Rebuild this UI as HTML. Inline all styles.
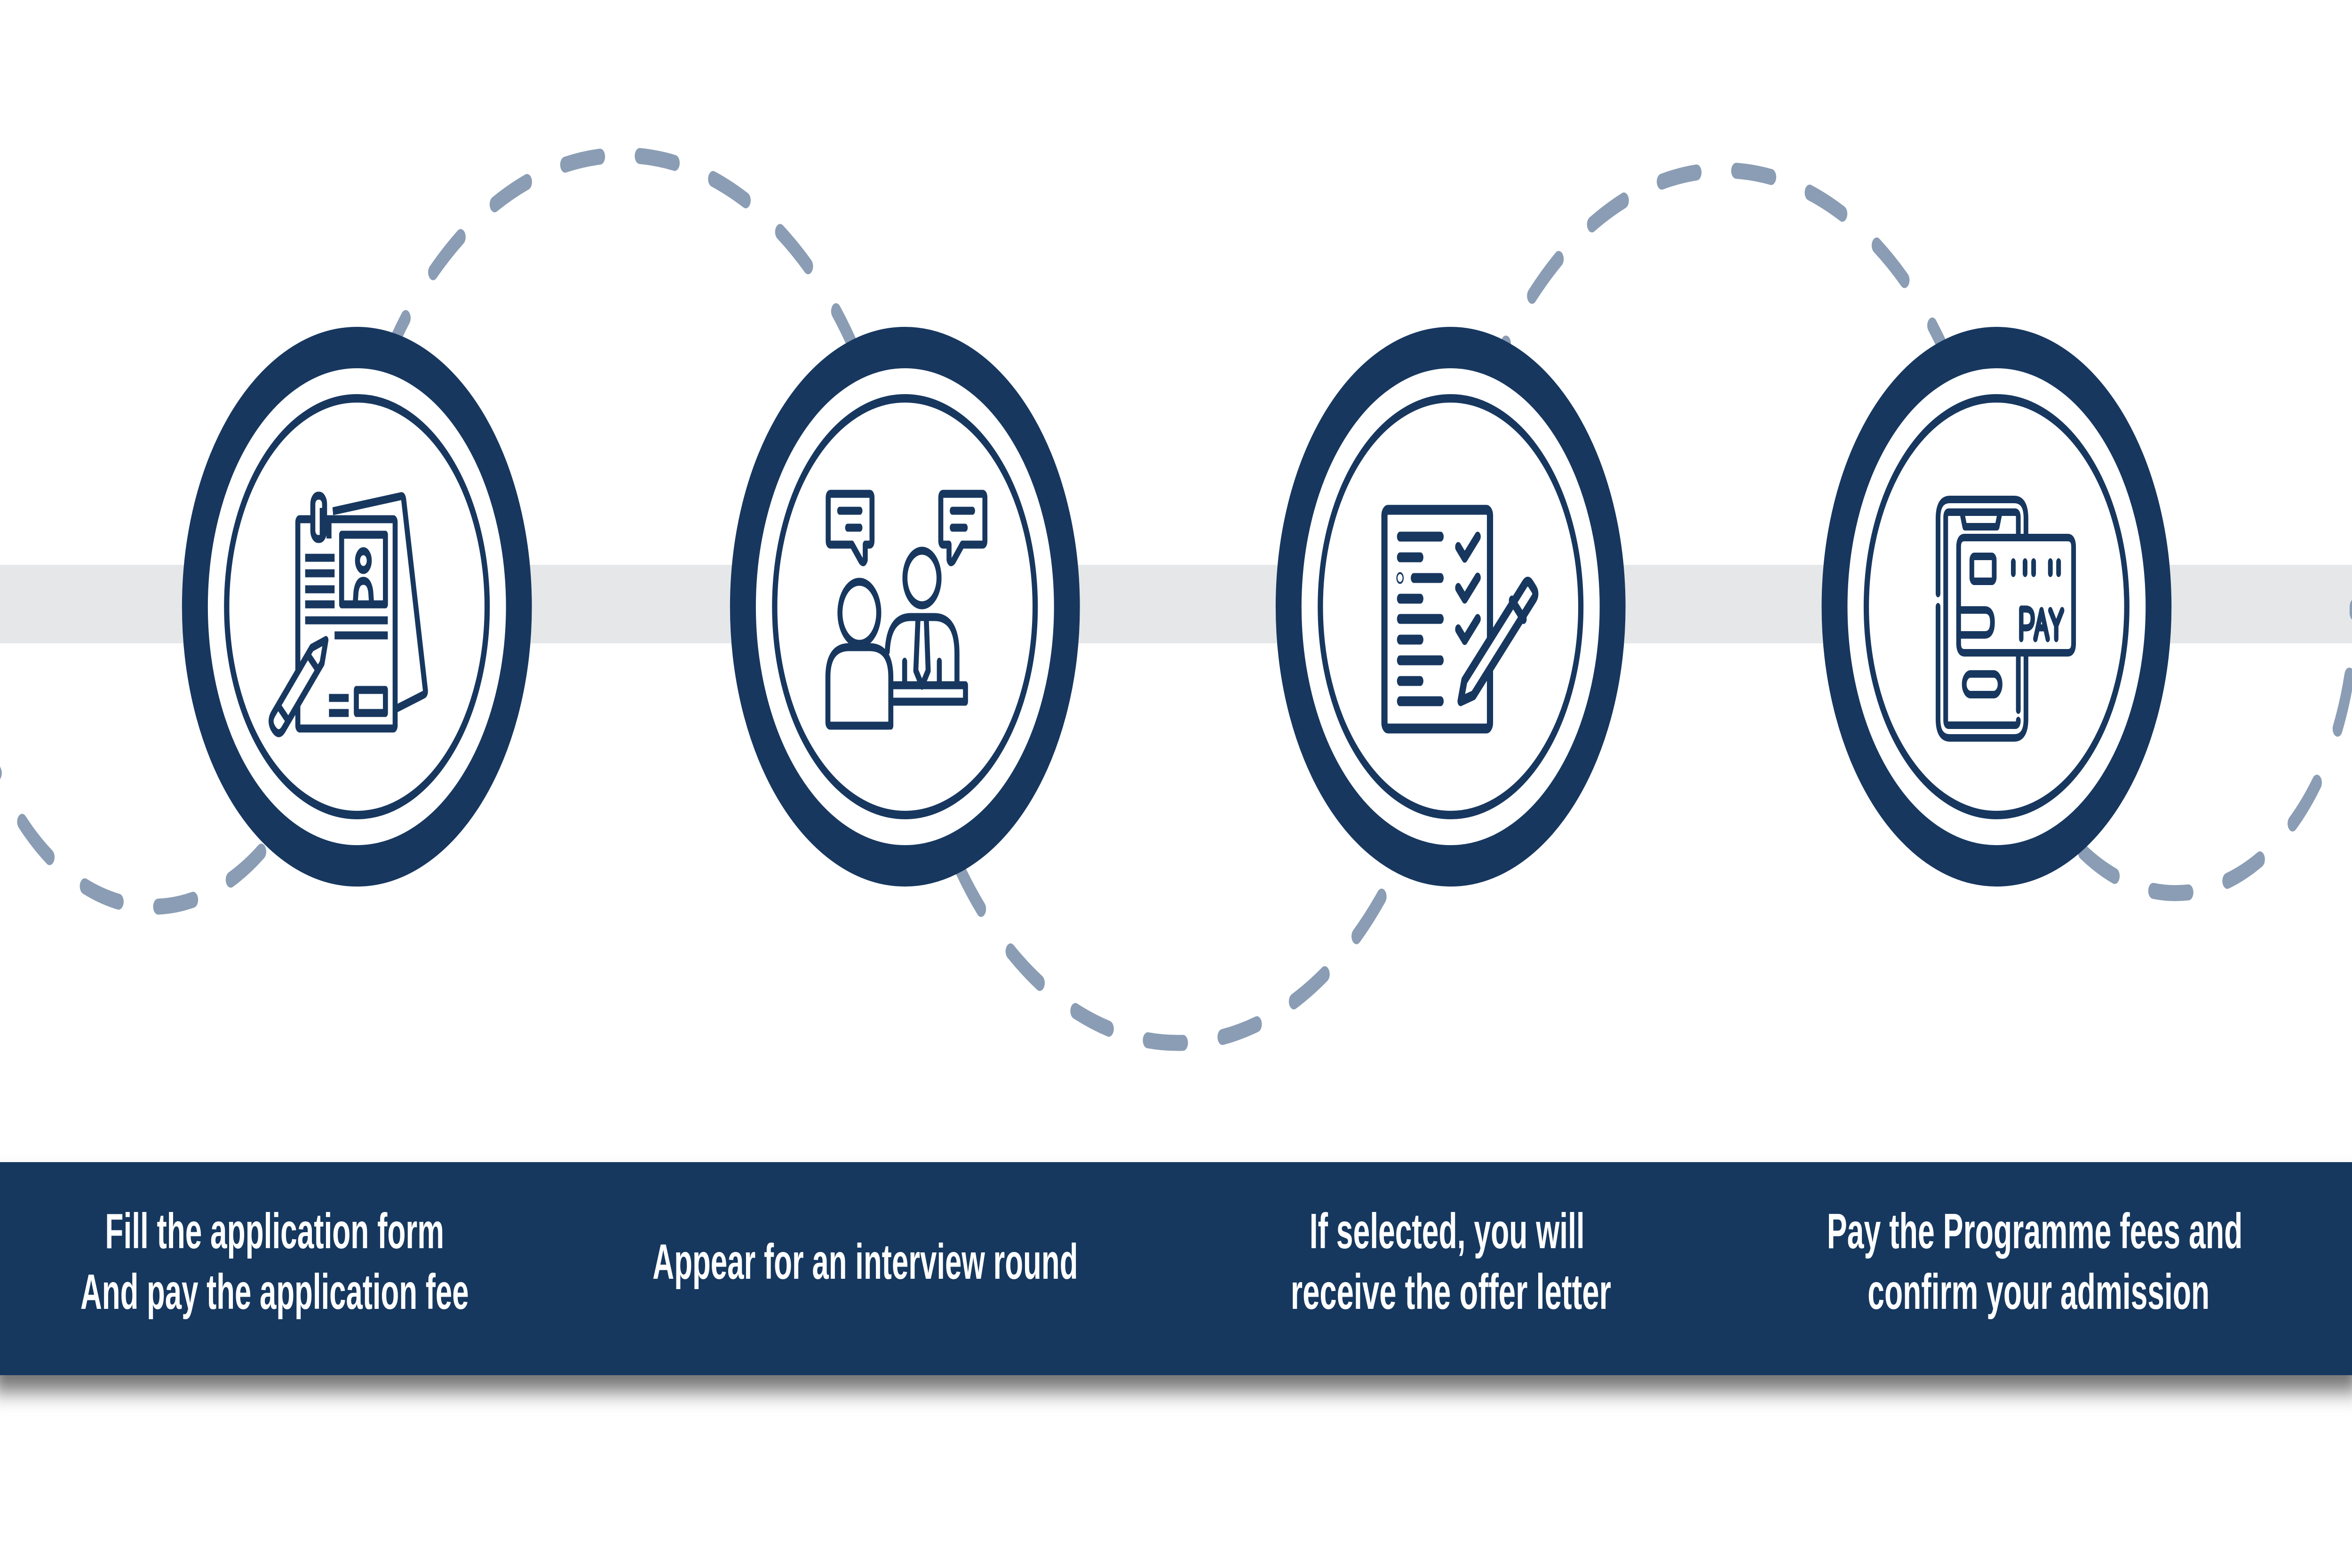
<!DOCTYPE html>
<html>
<head>
<meta charset="utf-8">
<style>
html,body{margin:0;padding:0;background:#fff;width:100%;height:100%;overflow:hidden;}
svg{display:block;position:absolute;left:0;top:0;width:100vw;height:100vh;}
.cap{font-family:"Liberation Sans",Arial,sans-serif;font-weight:bold;font-size:106px;fill:#fff;}
</style>
</head>
<body>
<svg viewBox="0 0 8000 3334" preserveAspectRatio="none" xmlns="http://www.w3.org/2000/svg">
<defs>
  <filter id="sh" x="-5%" y="-20%" width="110%" height="160%">
    <feDropShadow dx="0" dy="35" stdDeviation="22" flood-color="#000" flood-opacity="0.55"/>
  </filter>
</defs>
<rect x="0" y="0" width="8000" height="3334" fill="#fff"/>
<rect x="0" y="1201" width="8000" height="167" fill="#e6e7e8"/>

<path d="M -118 1290 A 638 638 0 0 0 1158 1290 A 960 960 0 0 1 3078 1290 A 928 928 0 0 0 4934 1290 A 928 928 0 0 1 6791 1290 A 609 609 0 0 0 8009 1290"
  fill="none" stroke="#8a9db4" stroke-width="34" stroke-linecap="round" stroke-dasharray="120 135"/>

<g fill="#fff" stroke="#17375f">
  <g transform="translate(1214,1290)"><circle r="551" stroke-width="88"/><circle r="443" stroke-width="18" fill="none"/></g>
  <g transform="translate(3078,1290)"><circle r="551" stroke-width="88"/><circle r="443" stroke-width="18" fill="none"/></g>
  <g transform="translate(4934,1290)"><circle r="551" stroke-width="88"/><circle r="443" stroke-width="18" fill="none"/></g>
  <g transform="translate(6791,1290)"><circle r="551" stroke-width="88"/><circle r="443" stroke-width="18" fill="none"/></g>
</g>

<g transform="translate(1214,1290)" fill="none" stroke="#17375f" stroke-width="17" stroke-linejoin="round">
  <path d="M -82 -203 L 150 -235 Q 157 -236 159 -228 L 233 178 Q 234 185 227 187 L 130 218"/>
  <rect x="-201" y="-186" width="331" height="445" rx="6" fill="#fff"/>
  <rect x="-150" y="-236" width="40" height="92" rx="18" fill="#fff"/>
  <path d="M -118 -210 V -150 M -95 -190 V -145"/>
  <rect x="-52" y="-153" width="149" height="148"/>
  <circle cx="22" cy="-98" r="20"/>
  <path d="M -6 -5 L -3 -32 Q 2 -55 22 -55 Q 42 -55 47 -32 L 50 -5"/>
  <path d="M -176 -104 H -76 M -176 -71 H -76 M -176 -37 H -76 M -176 -5 H -76 M -176 29 H 105 M -76 61 H 105 M -95 194 H -28 M -95 226 H -28"/>
  <rect x="-2" y="177" width="99" height="49"/>
  <g transform="translate(-252,228) rotate(-47)">
    <path d="M -22 -24 H 170 L 215 0 L 170 24 H -22 Q -45 24 -45 0 Q -45 -24 -22 -24 Z" fill="#fff"/>
    <path d="M 2 -24 V 24 M 150 -24 V 24"/>
  </g>
</g>

<g transform="translate(3078,1290)" fill="none" stroke="#17375f" stroke-width="17" stroke-linejoin="round" stroke-linecap="round">
  <path d="M -250 -240 H -120 Q -112 -240 -112 -232 V -140 Q -112 -132 -120 -132 H -135 V -100 Q -140 -90 -150 -98 L -180 -132 H -253 Q -261 -132 -261 -140 V -232 Q -261 -240 -253 -240 Z"/>
  <path d="M -222 -204 H -153 M -195 -168 H -153"/>
  <path d="M 130 -240 H 264 Q 272 -240 272 -232 V -140 Q 272 -132 264 -132 H 195 L 165 -98 Q 155 -90 150 -100 V -132 H 130 Q 122 -132 122 -140 V -232 Q 122 -240 130 -240 Z"/>
  <path d="M 161 -204 H 230 M 161 -168 H 205"/>
  <circle cx="-155" cy="13" r="66"/>
  <path d="M -48 253 V 150 Q -48 86 -120 86 H -190 Q -262 86 -262 150 V 245 Q -262 253 -254 253 H -56 Q -48 253 -48 245 Z"/>
  <circle cx="58" cy="-61" r="58"/>
  <path d="M -60 95 V 95 Q -55 22 20 22 H 100 Q 177 22 177 100 V 167"/>
  <path d="M -48 167 H 206 V 202 H -48"/>
  <path d="M 44 31 L 37 136 L 58 168 L 79 136 L 73 31"/>
  <path d="M -1 117 V 167 M 117 117 V 167"/>
</g>

<g transform="translate(4934,1290)" fill="none" stroke="#17375f" stroke-width="21" stroke-linejoin="round" stroke-linecap="round">
  <rect x="-225" y="-206" width="359" height="465" rx="12" fill="#fff"/>
  <path d="M -172 -149 H -34 M -172 -105 H -103 M -125 -61 H -34 M -172 -17 H -103 M -172 26 H -34 M -172 70 H -103 M -172 114 H -34 M -172 158 H -103 M -172 201 H -34"/>
  <circle cx="-172" cy="-61" r="2"/>
  <path d="M 26 -127 L 48 -104 L 92 -149 M 26 -40 L 48 -17 L 92 -62 M 26 48 L 48 71 L 92 26"/>
  <g transform="translate(34,201) rotate(-45)">
    <path d="M 0 0 L 40 -22 H 330 Q 345 -22 345 -7 V 7 Q 345 22 330 22 H 40 Z" fill="#fff"/>
    <path d="M 275 -28 V 28"/>
  </g>
</g>

<g transform="translate(6791,1290)" fill="none" stroke="#17375f" stroke-width="16" stroke-linejoin="round" stroke-linecap="round">
  <path d="M -199 -28 V -188 Q -199 -228 -159 -228 H 60 Q 100 -228 100 -188 V 239 Q 100 279 60 279 H -159 Q -199 279 -199 239 V 0"/>
  <path d="M 74 -150 V -190 Q 74 -201 63 -201 H -118 L -108 -170 H 2 L 12 -201"/>
  <path d="M 74 100 V 220 M 74 242 Q 74 252 64 252 H -163 Q -173 252 -173 242 V -190 Q -173 -201 -163 -201 H -118"/>
  <path d="M 165 -147 H 242 Q 262 -147 262 -127 V 78 Q 262 98 242 98 H -109 Q -129 98 -129 78 V -127 Q -129 -147 -109 -147 H 168" fill="#fff"/>
  <rect x="-84" y="-107" width="76" height="53" rx="8"/>
  <path d="M 57 -95 V -71 M 97 -95 V -71 M 126 -95 V -71 M 183 -95 V -71 M 211 -95 V -71"/>
  <path d="M -129 7 H -40 Q -14 7 -14 33 Q -14 60 -40 60 H -129"/>
  <rect x="-110" y="143" width="122" height="44" rx="22"/>
  <path d="M 84 68 V 5 H 100 Q 123 5 123 25 Q 123 45 100 45 H 84 M 132 68 L 153 8 L 174 68 M 141 45 H 166 M 183 8 L 203 40 L 223 8 M 203 40 V 68" stroke-width="15"/>
</g>

<rect x="-20" y="2471" width="8040" height="453" fill="#17375f" filter="url(#sh)"/>

<text class="cap" x="934" y="2654" text-anchor="middle" textLength="1153" lengthAdjust="spacingAndGlyphs">Fill the application form</text>
<text class="cap" x="934" y="2783" text-anchor="middle" textLength="1321" lengthAdjust="spacingAndGlyphs">And pay the application fee</text>
<text class="cap" x="2943" y="2719" text-anchor="middle" textLength="1447" lengthAdjust="spacingAndGlyphs">Appear for an interview round</text>
<text class="cap" x="4922" y="2654" text-anchor="middle" textLength="936" lengthAdjust="spacingAndGlyphs">If selected, you will</text>
<text class="cap" x="4935" y="2783" text-anchor="middle" textLength="1090" lengthAdjust="spacingAndGlyphs">receive the offer letter</text>
<text class="cap" x="6921" y="2654" text-anchor="middle" textLength="1414" lengthAdjust="spacingAndGlyphs">Pay the Programme fees and</text>
<text class="cap" x="6934" y="2783" text-anchor="middle" textLength="1163" lengthAdjust="spacingAndGlyphs">confirm your admission</text>
</svg>
</body>
</html>
